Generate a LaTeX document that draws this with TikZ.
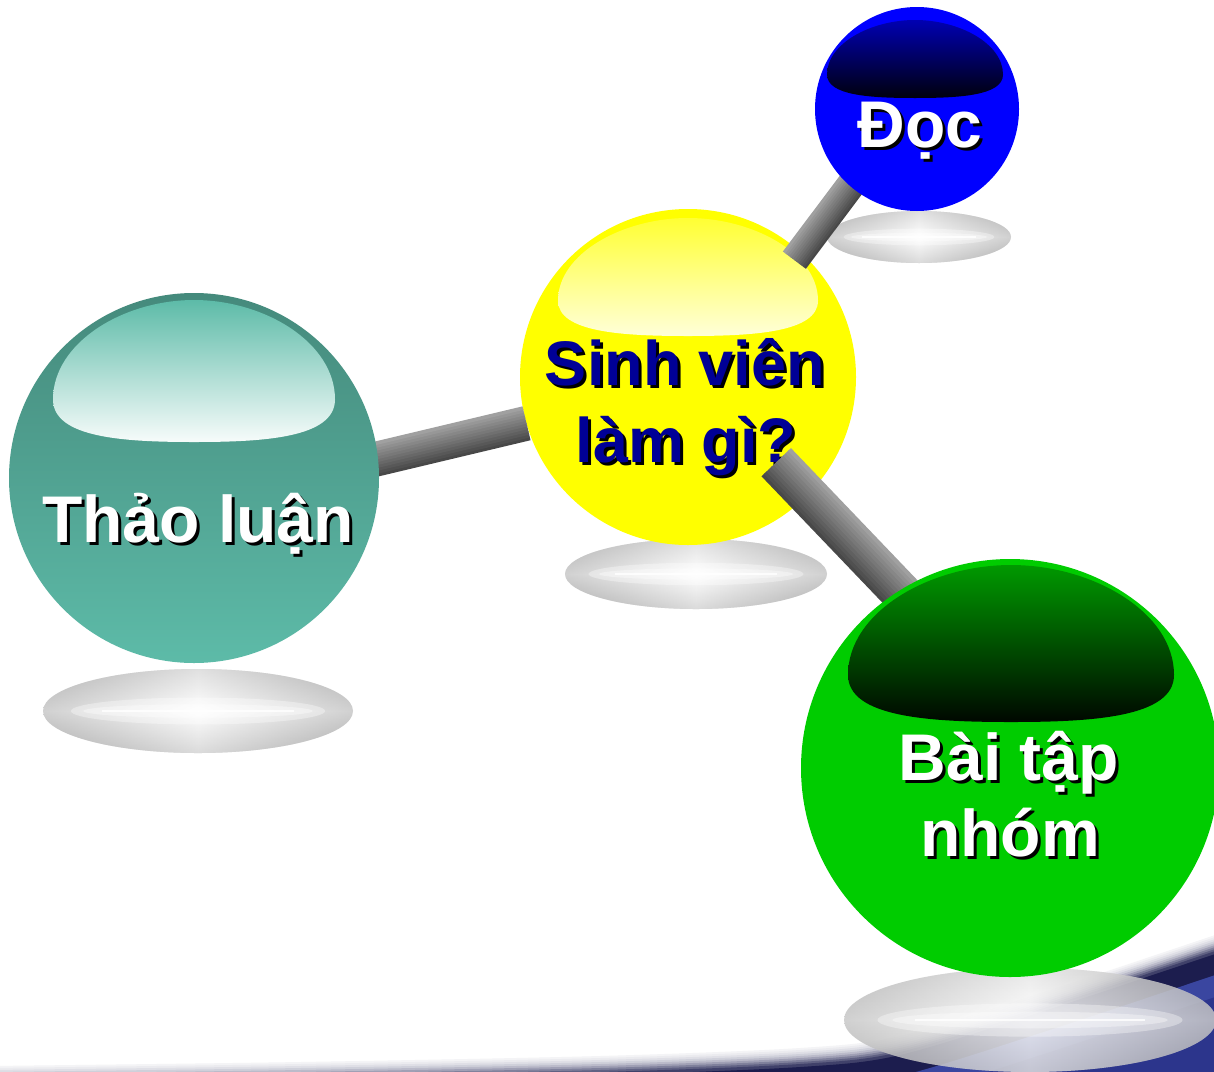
\documentclass[tikz,border=0pt]{standalone}
\usepackage{fontspec}
\setmainfont{Liberation Sans}
\usetikzlibrary{calc}
\definecolor{swnavy}{RGB}{28,29,78}
\definecolor{swblue}{RGB}{58,70,160}
\definecolor{swmid}{RGB}{44,53,140}
\definecolor{svtext}{RGB}{0,0,150}
\definecolor{tealtop}{RGB}{69,138,124}
\definecolor{tealbot}{RGB}{93,187,168}
\definecolor{bardark}{RGB}{72,72,72}
\definecolor{barlight}{RGB}{160,160,160}
\definecolor{pureyellow}{RGB}{255,255,0}

\newcommand\discshadow[5]{%
  \shade[top color=black!22, bottom color=black!26, middle color=white, fill opacity=#5] (#1,#2) ellipse [x radius=#3pt, y radius=#4pt];
  \shade[left color=black!40, right color=black!40, middle color=white, fill opacity=0.45] (#1,#2) ellipse [x radius=#3pt, y radius=#4pt];
  \fill[white, fill opacity=0.35] (#1,#2) ellipse [x radius={0.82*#3 pt}, y radius={0.32*#4 pt}];
  \fill[white, fill opacity=0.35] (#1,#2) ellipse [x radius={0.74*#3 pt}, y radius={0.16*#4 pt}];
  \draw[white, line width=2pt, opacity=0.8] ({#1-0.62*#3},#2) -- ({#1+0.62*#3},#2);}

\newcommand\hilite[6]{%
  \shade[top color=#5, bottom color=#6]
   ({#1-#2},{#3+0.7*(#4-#3)})
   .. controls ({#1-#2},{#3+0.3*(#4-#3)}) and ({#1-0.5*#2},#3) .. (#1,#3)
   .. controls ({#1+0.5*#2},#3) and ({#1+#2},{#3+0.3*(#4-#3)}) .. ({#1+#2},{#3+0.7*(#4-#3)})
   .. controls ({#1+#2},{#3+0.97*(#4-#3)}) and ({#1+0.5*#2},#4) .. (#1,#4)
   .. controls ({#1-0.5*#2},#4) and ({#1-#2},{#3+0.97*(#4-#3)}) .. cycle;}

\newcommand\ballbar[5]{%
  \foreach \i in {0,...,11}{%
    \pgfmathsetmacro\off{-#3/2+(\i+0.5)*#3/12}%
    \pgfmathtruncatemacro\pc{100*\i/11}%
    \pgfmathsetmacro\lw{#3/12+0.8}%
    \draw[line width=\lw pt, color=#5!\pc!#4] ($(#1)!\off pt!90:(#2)$) -- ($(#2)!\off pt!-90:(#1)$);
  }}

\newcommand\stxt[6]{%
  \node[txt, font=\bfseries\fontsize{#6}{#6}\selectfont, text=black] (#1s) at ({#2+3},{#3+3}) {#5};
  \node[txt, font=\bfseries\fontsize{#6}{#6}\selectfont, text=#4] (#1) at (#2,#3) {#5};}

\begin{document}
\begin{tikzpicture}[x=1pt,y=-1pt,
  ball/.style={circle, inner sep=0pt, outer sep=0pt},
  txt/.style={anchor=base, inner sep=0pt}]
\useasboundingbox (0,0) rectangle (1214,1071);
\fill[white] (0,0) rectangle (1214,1071);

% background swoosh
\foreach \s/\c in {-14/5,-12/9,-10/14,-8/21,-6/30,-4/42,-2/56,0/70,2/84}{
  \fill[swnavy!\c!white] plot[smooth] coordinates {(-10,{1080+\s}) (300,{1076+\s}) (600,{1070+\s}) (800,{1062+\s}) (900,{1050+\s}) (1050,{1004+\s}) (1230,{944+\s})} -- (1230,1200) -- (-10,1200) -- cycle;
}
\foreach \s/\c in {5/swnavy, 26/swblue, 48/swmid}{
  \fill[\c] plot[smooth] coordinates {(-10,{1080+\s}) (300,{1076+\s}) (600,{1070+\s}) (800,{1062+\s}) (900,{1050+\s}) (1050,{1004+\s}) (1230,{944+\s})} -- (1230,1200) -- (-10,1200) -- cycle;
}

% ball nodes
\node[ball, minimum size=336pt] (sv) at (688,377) {};
\node[ball, minimum size=370pt] (tl) at (194,478) {};
\node[ball, minimum size=204pt] (doc) at (917,109) {};
\node[ball, minimum size=418pt] (btn) at (1010,768) {};

% floor shadows
\discshadow{919}{237}{92}{26}{1}
\discshadow{696}{574}{131}{35}{1}
\discshadow{198}{711}{155}{42}{1}
\discshadow{1030}{1020}{186}{52}{0.72}

% yellow ball
\fill[pureyellow] (sv) circle[radius=168pt];
\hilite{688}{130}{218}{336}{pureyellow!80!white}{pureyellow!15!white}
\stxt{t1}{685}{385}{svtext}{Sinh viên}{63}
\stxt{t2}{686}{462}{svtext}{làm gì?}{63}

% connector coordinates
\coordinate (b1a) at ($(tl.6)!-20pt!(sv.196)$);
\coordinate (b1b) at (sv.196);
\coordinate (b2a) at ($(sv.48)!-10pt!(doc.229)$);
\coordinate (b2b) at ($(doc.229)!-15pt!(sv.48)$);
\coordinate (b3a) at ($(sv)!0.73!(sv.316)$);
\coordinate (b3b) at ($(btn.122)!-20pt!(b3a)$);

% connectors
\ballbar{b1a}{b1b}{34}{bardark}{barlight}
\ballbar{b2a}{b2b}{28}{bardark}{barlight}
\ballbar{b3a}{b3b}{40}{bardark}{barlight}

% teal ball
\shade[top color=tealtop, bottom color=tealbot] (tl) circle[radius=185pt];
\hilite{194}{141}{300}{442}{tealbot}{white!95!tealbot}
% blue ball
\fill[blue] (doc) circle[radius=102pt];
\hilite{915}{88}{20}{98}{blue!70!black}{black!95!blue}
% green ball
\fill[green!80!black] (btn) circle[radius=209pt];
\hilite{1011}{163}{565}{722}{green!60!black}{black!97!green}

% labels
\stxt{t3}{198}{542}{white}{Thảo luận}{66}
\stxt{t4}{920}{147}{white}{Đọc}{66}
\stxt{t5}{1009}{780}{white}{Bài tập}{66}
\stxt{t6}{1010}{856}{white}{nhóm}{66}
\end{tikzpicture}
\end{document}
